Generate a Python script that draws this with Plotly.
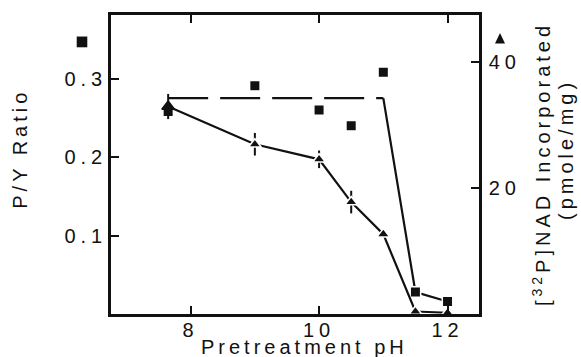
import plotly.graph_objects as go

# ---- data ----
ph = [7.65, 9.0, 10.0, 10.5, 11.0, 11.5, 12.0]
py_ratio = [0.258, 0.291, 0.260, 0.240, 0.308, 0.028, 0.016]
nad = [33.0, 27.0, 24.6, 17.8, 12.7, 0.4, 0.2]
nad_err = [2.0, 1.8, 1.4, 1.8, 0.0, 0.0, 0.0]

fit_ph_flat = [7.65, 11.0]
fit_py_flat = [0.275, 0.275]
fit_ph_drop = [11.0, 11.5, 12.0]
fit_py_drop = [0.275, 0.028, 0.016]

x_ticks = [8, 10, 12]
y_ticks = [0.1, 0.2, 0.3]
y_ticktext = ["0.1", "0.2", "0.3"]
y2_ticks = [20, 40]

FONT = "Liberation Sans, Arial, Helvetica, sans-serif"
BLACK = "#111111"

fig = go.Figure()

fig.add_trace(go.Scatter(x=fit_ph_flat, y=fit_py_flat, mode="lines",
                         line=dict(color=BLACK, width=2.2, dash="40px,12px"),
                         cliponaxis=False, showlegend=False, yaxis="y"))
fig.add_trace(go.Scatter(x=fit_ph_drop, y=fit_py_drop, mode="lines",
                         line=dict(color=BLACK, width=2.2),
                         cliponaxis=False, showlegend=False, yaxis="y"))
fig.add_trace(go.Scatter(x=ph, y=py_ratio, mode="markers",
                         marker=dict(symbol="square", size=10.5, color=BLACK,
                                     line=dict(color="white", width=1.5)),
                         cliponaxis=False, showlegend=False, yaxis="y"))
fig.add_trace(go.Scatter(x=ph, y=nad, mode="lines+markers",
                         line=dict(color=BLACK, width=2.2),
                         marker=dict(symbol="triangle-up", size=11, color=BLACK,
                                     line=dict(color=[BLACK] + ["white"] * 6, width=1.5)),
                         error_y=dict(type="data", array=nad_err, visible=True,
                                      color=BLACK, thickness=2, width=0),
                         cliponaxis=False, showlegend=False, yaxis="y2"))

axis_common = dict(showgrid=False, zeroline=False, showline=True, linecolor=BLACK,
                   linewidth=2.5, ticks="inside", ticklen=8, tickwidth=2,
                   tickcolor=BLACK, tickfont=dict(family=FONT, size=20, color=BLACK))

# axis keys: filled square beside the left axis, filled triangle beside the right axis
shapes = [
    dict(type="rect", xref="paper", yref="paper",
         x0=-0.0932, x1=-0.0644, y0=0.892, y1=0.928,
         fillcolor=BLACK, line=dict(width=0)),
    dict(type="path", xref="paper", yref="paper",
         path="M 1.0435 0.905 L 1.0707 0.905 L 1.0571 0.940 Z",
         fillcolor=BLACK, line=dict(width=0)),
]

fig.update_layout(
    width=581, height=357, autosize=False,
    margin=dict(l=111, r=102, t=13, b=43),
    paper_bgcolor="white", plot_bgcolor="white",
    font=dict(family=FONT, size=20, color=BLACK),
    xaxis=dict(range=[6.76, 12.49], tickvals=x_ticks, mirror="ticks",
               ticklabelstandoff=-4, **axis_common),
    yaxis=dict(range=[0, 0.381], tickvals=y_ticks, ticktext=y_ticktext,
               ticklabelstandoff=-3, **axis_common),
    yaxis2=dict(range=[0, 47.55], tickvals=y2_ticks, overlaying="y", side="right",
                ticklabelstandoff=3, **axis_common),
    shapes=shapes,
    annotations=[
        dict(text="Pretreatment pH", xref="paper", yref="paper", x=0.527, y=-0.111,
             xanchor="center", yanchor="middle", showarrow=False,
             font=dict(family=FONT, size=20, color=BLACK)),
        dict(text="P/Y Ratio", xref="paper", yref="paper", x=-0.247, y=0.553,
             xanchor="center", yanchor="middle", textangle=-90, showarrow=False,
             font=dict(family=FONT, size=20, color=BLACK)),
        dict(text="[<sup>32</sup>P]NAD Incorporated", xref="paper", yref="paper",
             x=1.17, y=0.50, xanchor="center", yanchor="middle", textangle=-90,
             showarrow=False, font=dict(family=FONT, size=20, color=BLACK)),
        dict(text="(pmole/mg)", xref="paper", yref="paper",
             x=1.235, y=0.55, xanchor="center", yanchor="middle", textangle=-90,
             showarrow=False, font=dict(family=FONT, size=20, color=BLACK)),
    ],
)

post = ("var s=document.createElement('style');"
        "s.innerHTML='.main-svg text{letter-spacing:4px}"
        " .main-svg .xtick text, .main-svg .ytick text, .main-svg .y2tick text{letter-spacing:5px}';"
        "document.head.appendChild(s);")
fig.write_html("out.html", post_script=post)
